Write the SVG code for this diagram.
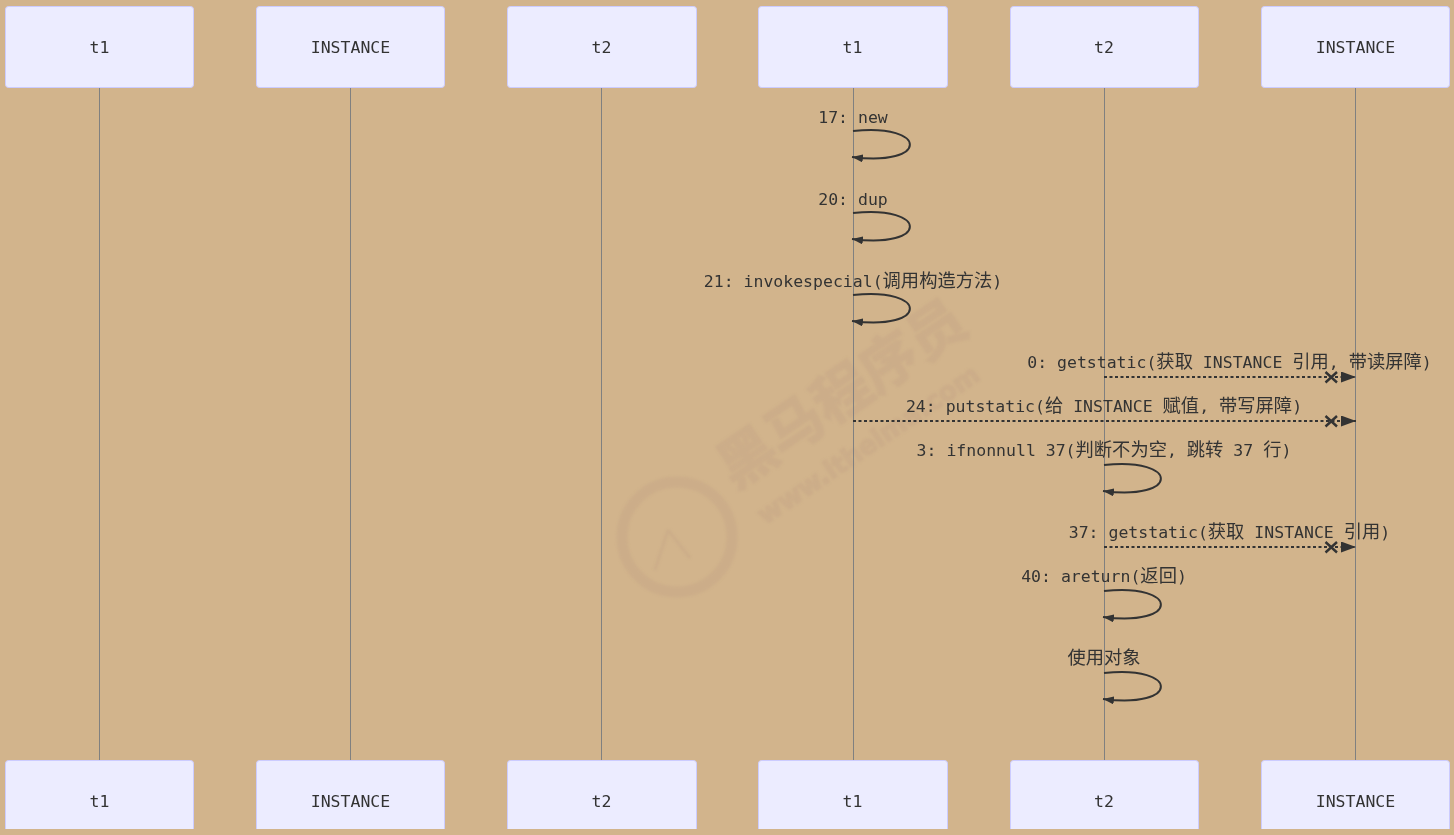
<svg xmlns="http://www.w3.org/2000/svg" width="1454" height="835" viewBox="0 0 1454 835">
<style>
.bg{fill:#d2b48c}
.box{fill:#ececff;stroke:#ccccff;stroke-width:1}
.life{stroke:#808080;stroke-width:1;fill:none}
.lbl{font-family:"DejaVu Sans Mono","Noto Sans CJK SC",monospace;font-size:16.5px;fill:#333;text-anchor:middle}
.msg{font-family:"DejaVu Sans Mono","Noto Sans CJK SC",monospace;font-size:16.5px;fill:#333;text-anchor:middle}
.c{font-family:"Noto Sans CJK SC",sans-serif;font-size:18.3px}
.self{fill:none;stroke:#333;stroke-width:2;marker-end:url(#small)}
.dash{fill:none;stroke:#333;stroke-width:2;stroke-dasharray:3 2.500;marker-end:url(#arrow)}
.x{fill:none;stroke:#333;stroke-width:2.400}
.wm{fill:#ccad89;stroke:#ccad89;stroke-width:1.500}
.wmr{fill:none;stroke:#ccad89}
</style>
<defs>
<marker id="arrow" markerUnits="userSpaceOnUse" markerWidth="16" markerHeight="11" refX="15" refY="5.500" orient="auto"><path d="M0 0L15 5.500L0 11z" fill="#333"/></marker>
<marker id="small" markerUnits="userSpaceOnUse" markerWidth="12" markerHeight="8" refX="11" refY="4" orient="auto"><path d="M0 0L11 4L0 8z" fill="#333"/></marker>
<filter id="soft" x="-5%" y="-5%" width="110%" height="110%"><feGaussianBlur stdDeviation="1.200"/></filter>
</defs>
<rect class="bg" width="1454" height="835"/>
<g id="watermark" filter="url(#soft)">
<circle class="wmr" cx="677" cy="537" r="55" stroke-width="11"/>
<path class="wmr" stroke-width="3" d="M668 530L655 570M668 530L690 558"/>
<text class="wm" transform="translate(735 490) rotate(-34)" font-family="Noto Sans CJK SC,sans-serif" font-size="57" font-weight="700">黑马程序员</text>
<text class="wm" transform="translate(765 525) rotate(-34)" font-family="DejaVu Sans,sans-serif" font-size="26" font-weight="700">www.itheima.com</text>
</g>
<g id="lifelines">
<path class="life" d="M99.500 88V760M350.500 88V760M601.500 88V760M853.500 88V760M1104.500 88V760M1355.500 88V760"/>
</g>
<g id="node-t1-top"><rect class="box" x="5.500" y="6.500" width="188" height="81" rx="3"/><text class="lbl" x="99.500" y="53">t1</text></g>
<g id="node-instance-top"><rect class="box" x="256.500" y="6.500" width="188" height="81" rx="3"/><text class="lbl" x="350.500" y="53">INSTANCE</text></g>
<g id="node-t2-top"><rect class="box" x="507.500" y="6.500" width="189" height="81" rx="3"/><text class="lbl" x="601.500" y="53">t2</text></g>
<g id="node-t1b-top"><rect class="box" x="758.500" y="6.500" width="189" height="81" rx="3"/><text class="lbl" x="852.500" y="53">t1</text></g>
<g id="node-t2b-top"><rect class="box" x="1010.500" y="6.500" width="188" height="81" rx="3"/><text class="lbl" x="1104" y="53">t2</text></g>
<g id="node-instanceb-top"><rect class="box" x="1261.500" y="6.500" width="188" height="81" rx="3"/><text class="lbl" x="1355.500" y="53">INSTANCE</text></g>
<g id="node-t1-bottom"><rect class="box" x="5.500" y="760.500" width="188" height="81" rx="3"/><text class="lbl" x="99.500" y="807">t1</text></g>
<g id="node-instance-bottom"><rect class="box" x="256.500" y="760.500" width="188" height="81" rx="3"/><text class="lbl" x="350.500" y="807">INSTANCE</text></g>
<g id="node-t2-bottom"><rect class="box" x="507.500" y="760.500" width="189" height="81" rx="3"/><text class="lbl" x="601.500" y="807">t2</text></g>
<g id="node-t1b-bottom"><rect class="box" x="758.500" y="760.500" width="189" height="81" rx="3"/><text class="lbl" x="852.500" y="807">t1</text></g>
<g id="node-t2b-bottom"><rect class="box" x="1010.500" y="760.500" width="188" height="81" rx="3"/><text class="lbl" x="1104" y="807">t2</text></g>
<g id="node-instanceb-bottom"><rect class="box" x="1261.500" y="760.500" width="188" height="81" rx="3"/><text class="lbl" x="1355.500" y="807">INSTANCE</text></g>
<rect class="bg" y="829" width="1454" height="6"/>
<g id="connectors">
<path class="self" d="M853 131C929 123 929 167 852 157"/>
<path class="self" d="M853 213C929 205 929 249 852 239"/>
<path class="self" d="M853 295C929 287 929 331 852 321"/>
<path class="dash" d="M1104 377H1356"/>
<path class="x" d="M1325.500 372L1337 382.500M1337 372L1325.500 382.500"/>
<path class="dash" d="M853 421H1356"/>
<path class="x" d="M1325.500 416L1337 426.500M1337 416L1325.500 426.500"/>
<path class="self" d="M1104 465C1180 457 1180 501 1103 491"/>
<path class="dash" d="M1104 547H1356"/>
<path class="x" d="M1325.500 542L1337 552.500M1337 542L1325.500 552.500"/>
<path class="self" d="M1104 591C1180 583 1180 627 1103 617"/>
<path class="self" d="M1104 673C1180 665 1180 709 1103 699"/>
</g>
<g id="labels">
<text class="msg" x="853" y="123">17: new</text>
<text class="msg" x="853" y="205">20: dup</text>
<text class="msg" x="853" y="287">21: invokespecial(<tspan class="c">调用构造方法</tspan>)</text>
<text class="msg" x="1229.500" y="368">0: getstatic(<tspan class="c">获取</tspan> INSTANCE <tspan class="c">引用</tspan>, <tspan class="c">带读屏障</tspan>)</text>
<text class="msg" x="1104" y="412">24: putstatic(<tspan class="c">给</tspan> INSTANCE <tspan class="c">赋值</tspan>, <tspan class="c">带写屏障</tspan>)</text>
<text class="msg" x="1104" y="456">3: ifnonnull 37(<tspan class="c">判断不为空</tspan>, <tspan class="c">跳转</tspan> 37 <tspan class="c">行</tspan>)</text>
<text class="msg" x="1229.500" y="538">37: getstatic(<tspan class="c">获取</tspan> INSTANCE <tspan class="c">引用</tspan>)</text>
<text class="msg" x="1104" y="582">40: areturn(<tspan class="c">返回</tspan>)</text>
<text class="msg c" x="1104" y="664">使用对象</text>
</g>
</svg>
